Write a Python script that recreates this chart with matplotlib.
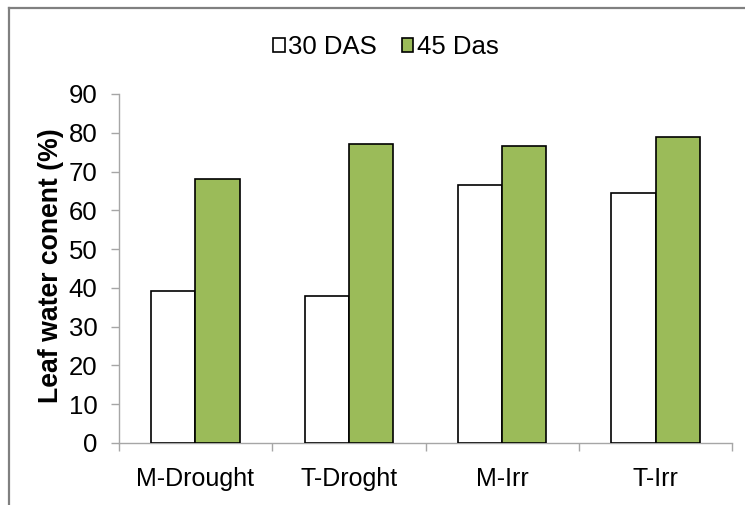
import numpy as np
import matplotlib
matplotlib.use("Agg")
import matplotlib.pyplot as plt
from matplotlib.patches import Patch
from matplotlib.lines import Line2D

plt.rcParams['font.family'] = ['Liberation Sans', 'DejaVu Sans']

# 처리별 엽수분 함량 (%)
treatments = ['M-Drought', 'T-Droght', 'M-Irr', 'T-Irr']
das30 = [39.1, 37.9, 66.5, 64.5]
das45 = [68.2, 77.1, 76.6, 78.9]
series_names = ['30 DAS', '45 Das']

fig = plt.figure(figsize=(7.45, 5.05), dpi=100)
ax = fig.add_axes([0.1593, 0.1228, 0.8237, 0.6911])

x = np.arange(len(treatments)) + 0.5
w = 0.288
ax.bar(x - w / 2, das30, w, color='white', edgecolor='black', linewidth=1.2, zorder=3)
ax.bar(x + w / 2, das45, w, color='#9BBB59', edgecolor='black', linewidth=1.2, zorder=3)

ax.set_xlim(0, len(treatments))
ax.set_ylim(0, 90)
ax.set_yticks(np.arange(0, 91, 10))

# 눈금: 범주 경계에 주 눈금, 범주 중앙에 라벨
ax.set_xticks(np.arange(len(treatments) + 1))
ax.set_xticklabels([])
ax.set_xticks(x, minor=True)
ax.set_xticklabels(treatments, minor=True, fontsize=18)
ax.tick_params(axis='x', which='major', length=6, width=1, color='#A6A6A6', direction='out')
ax.tick_params(axis='x', which='minor', length=0, pad=17.5)
ax.tick_params(axis='y', length=6, width=1, color='#A6A6A6', direction='out', pad=9.4, labelsize=18.5)

for s in ['top', 'right']:
    ax.spines[s].set_visible(False)
for s in ['left', 'bottom']:
    ax.spines[s].set_color('#A6A6A6')
    ax.spines[s].set_linewidth(1)

fig.text(51 / 745, 1 - 266 / 505, 'Leaf water conent (%)', rotation=90, ha='center', va='center',
         fontsize=19.2, fontweight='bold')

handles = [Patch(facecolor='white', edgecolor='black', linewidth=1.2),
           Patch(facecolor='#9BBB59', edgecolor='black', linewidth=1.2)]
fig.legend(handles, series_names, loc='center', bbox_to_anchor=(0.518, 1 - 47 / 505),
           ncol=2, frameon=False, fontsize=18.5, handlelength=0.45, handleheight=0.45,
           handletextpad=0.15, columnspacing=0.95)

# 그림 테두리 (위, 왼쪽)
fig.add_artist(Line2D([8.7 / 745, 8.7 / 745], [0, 1 - 7.5 / 505], transform=fig.transFigure,
                      color='#808080', linewidth=1.6))
fig.add_artist(Line2D([8.7 / 745, 1], [1 - 7.5 / 505, 1 - 7.5 / 505], transform=fig.transFigure,
                      color='#808080', linewidth=1.6))

fig.savefig('out.png', dpi=100)
